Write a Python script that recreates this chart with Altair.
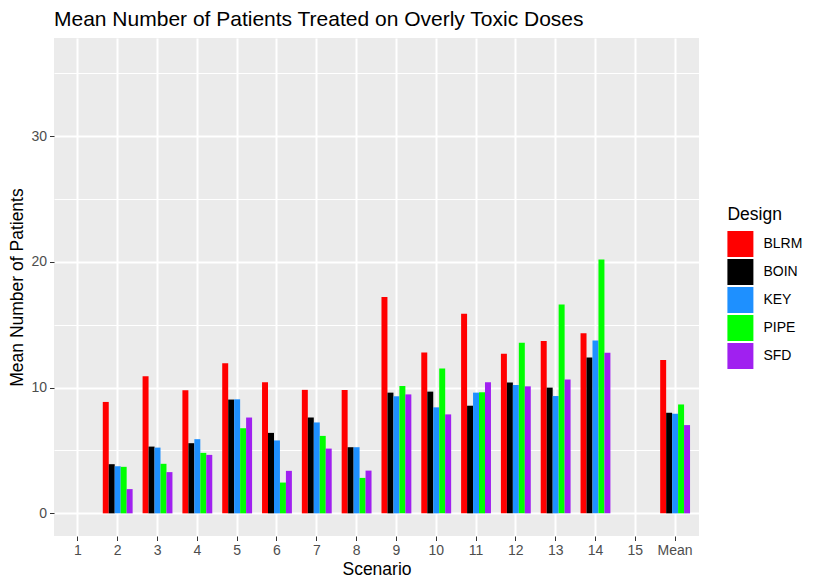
import altair as alt
import pandas as pd

scenarios = ["1", "2", "3", "4", "5", "6", "7", "8", "9", "10", "11", "12", "13", "14", "15", "Mean"]
designs = ["BLRM", "BOIN", "KEY", "PIPE", "SFD"]
colors = ["#FF0000", "#000000", "#1E90FF", "#00FF00", "#A020F0"]

blrm = [0, 8.86, 10.90, 9.79, 11.93, 10.42, 9.82, 9.81, 17.20, 12.79, 15.87, 12.69, 13.70, 14.33, 0, 12.19]
boin = [0, 3.91, 5.31, 5.58, 9.05, 6.40, 7.62, 5.26, 9.60, 9.68, 8.56, 10.41, 10.00, 12.40, 0, 8.00]
key = [0, 3.75, 5.23, 5.90, 9.07, 5.80, 7.23, 5.26, 9.31, 8.43, 9.60, 10.20, 9.33, 13.75, 0, 7.92]
pipe = [0, 3.70, 3.94, 4.81, 6.77, 2.45, 6.16, 2.82, 10.13, 11.52, 9.63, 13.56, 16.60, 20.19, 0, 8.66]
sfd = [0, 1.93, 3.28, 4.65, 7.62, 3.38, 5.15, 3.40, 9.46, 7.87, 10.42, 10.10, 10.65, 12.77, 0, 7.02]

series = {"BLRM": blrm, "BOIN": boin, "KEY": key, "PIPE": pipe, "SFD": sfd}
rows = []
for d in designs:
    for s, v in zip(scenarios, series[d]):
        rows.append({"Scenario": s, "Design": d, "Value": v})
df = pd.DataFrame(rows)

FONT = "Liberation Sans"
major = "datum.value % 10 === 0"

chart = alt.Chart(df).mark_bar().encode(
    x=alt.X(
        "Scenario:N",
        sort=scenarios,
        scale=alt.Scale(paddingInner=0.25, paddingOuter=0.225),
        axis=alt.Axis(
            title="Scenario",
            labelAngle=0,
            labelFontSize=14,
            labelColor="#4D4D4D",
            labelPadding=3,
            tickColor="#333333",
            tickSize=4.5,
            tickWidth=1,
            domain=False,
            grid=True,
            gridColor="#FFFFFF",
            gridWidth=2,
            bandPosition=0.5,
            titleFontSize=17.5,
            titleFontWeight="normal",
            titleColor="#000000",
            titlePadding=3,
        ),
    ),
    xOffset=alt.XOffset("Design:N", sort=designs, scale=alt.Scale(paddingInner=0, paddingOuter=0)),
    y=alt.Y(
        "Value:Q",
        stack=None,
        scale=alt.Scale(domain=[-1.8, 37.8], nice=False, zero=False),
        axis=alt.Axis(
            title="Mean Number of Patients",
            values=[0, 5, 10, 15, 20, 25, 30, 35],
            labelExpr="datum.value % 10 === 0 ? datum.label : ''",
            labelFontSize=14,
            labelColor="#4D4D4D",
            labelPadding=3,
            tickColor="#333333",
            tickSize=4.5,
            tickWidth=1,
            tickOpacity={"condition": {"test": major, "value": 1}, "value": 0},
            domain=False,
            grid=True,
            gridColor="#FFFFFF",
            gridWidth={"condition": {"test": major, "value": 2}, "value": 1},
            titleFontSize=17.5,
            titleFontWeight="normal",
            titleColor="#000000",
            titlePadding=4,
        ),
    ),
    color=alt.Color(
        "Design:N",
        sort=designs,
        scale=alt.Scale(domain=designs, range=colors),
        legend=alt.Legend(
            title="Design",
            orient="none",
            legendX=673.4,
            legendY=167.5,
            symbolType="square",
            symbolSize=676,
            symbolStrokeWidth=0,
            symbolOpacity=1,
            labelFontSize=14,
            labelColor="#000000",
            labelOffset=10,
            rowPadding=2,
            titleFontSize=17.5,
            titleFontWeight="normal",
            titleColor="#000000",
            titlePadding=8,
            padding=0,
        ),
    ),
).properties(
    width=645,
    height=498,
    title=alt.TitleParams(
        "Mean Number of Patients Treated on Overly Toxic Doses",
        anchor="start",
        frame="group",
        fontSize=21,
        fontWeight="normal",
        color="#000000",
        offset=8,
    ),
    autosize=alt.AutoSizeParams(type="none"),
    padding={"left": 46, "top": 30, "right": 110, "bottom": 43},
).configure(
    font=FONT,
).configure_view(
    fill="#EBEBEB",
    stroke=None,
)

chart.save("out.html", embed_options={"renderer": "svg", "actions": False})
